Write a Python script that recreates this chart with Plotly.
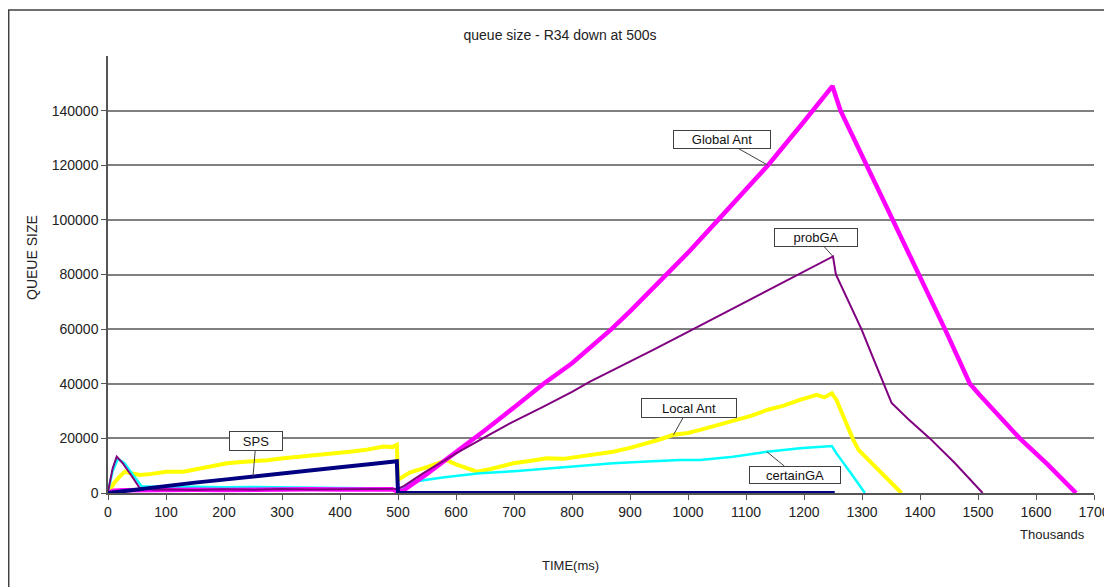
import plotly.graph_objects as go

# ---------------- data (x in thousands of ms, queue size) ----------------
ga_x = [0, 10, 30, 60, 100, 150, 200, 250, 300, 350, 400, 450, 490, 500, 510, 550, 584, 600, 650, 700,
        751, 800, 868, 900, 964, 1000, 1052, 1100, 1138, 1200, 1249, 1263, 1308, 1355, 1400, 1443,
        1486, 1503, 1572, 1620, 1669]
ga_y = [0, 800, 1000, 1100, 1000, 1200, 1100, 1300, 1200, 1400, 1300, 1500, 1400, 500, 1000, 7000, 12300,
        15000, 23000, 31300, 40000, 47500, 60000, 66500, 80000, 88000, 100000, 111000, 120000, 136000,
        149000, 140000, 120000, 100000, 80000, 60000, 40000, 35900, 20000, 10500, 0]

pg_x = [0, 8, 15, 25, 40, 55, 80, 100, 150, 200, 250, 300, 350, 400, 450, 500, 510, 543, 584, 600, 650,
        693, 750, 800, 831, 900, 940, 1000, 1050, 1100, 1150, 1200, 1250, 1255, 1270, 1285, 1299, 1320,
        1337, 1351, 1380, 1417, 1460, 1508]
pg_y = [500, 9000, 13300, 11000, 6500, 1700, 1200, 1300, 1100, 1400, 1200, 1500, 1300, 1400, 1300, 1600,
        2500, 7200, 12400, 14500, 20500, 25500, 31500, 37000, 40800, 48000, 52400, 59000, 64500, 70000,
        75500, 81000, 86600, 80000, 73000, 66000, 60000, 49000, 40000, 33000, 27000, 20000, 11000, 0]

la_x = [0, 10, 20, 29, 40, 55, 75, 101, 130, 159, 187, 205, 225, 245, 275, 302, 330, 360, 390, 417, 445,
        475, 490, 498, 500, 520, 550, 584, 600, 620, 636, 660, 699, 730, 756, 785, 814, 840, 871, 900,
        929, 950, 975, 1000, 1021, 1050, 1078, 1110, 1136, 1165, 1193, 1222, 1235, 1248, 1256, 1270,
        1285, 1294, 1330, 1368]
la_y = [0, 3500, 6000, 7800, 7200, 6600, 7000, 7800, 7800, 9000, 10500, 10900, 11300, 11500, 12000, 12700,
        13200, 13900, 14300, 15100, 15800, 17000, 16800, 17600, 4800, 7500, 9500, 12000, 10500, 8800,
        7800, 8800, 10900, 11800, 12700, 12500, 13300, 14200, 15100, 16500, 18200, 19500, 21300, 22000,
        23100, 24800, 26700, 28300, 30400, 32000, 34100, 35900, 35000, 36500, 34100, 27000, 19400, 15800,
        8000, 0]

cg_x = [0, 8, 17, 28, 42, 58, 80, 100, 150, 200, 250, 300, 350, 400, 450, 490, 500, 526, 580, 641, 700,
        756, 810, 871, 930, 986, 1021, 1078, 1136, 1193, 1248, 1256, 1280, 1305]
cg_y = [500, 8000, 12500, 11000, 7000, 2500, 2300, 2200, 2300, 2100, 2200, 2000, 1900, 1800, 1700, 1600,
        500, 4100, 5800, 7200, 8000, 9000, 10000, 10900, 11500, 12100, 12100, 13300, 15100, 16400, 17200,
        14500, 7500, 0]

sps_x = [0, 20, 55, 100, 150, 200, 250, 300, 350, 400, 450, 498, 500, 1253]
sps_y = [0, 500, 1700, 2700, 3800, 4900, 6100, 7200, 8300, 9400, 10500, 11600, 0, 0]

x_ticks = list(range(0, 1701, 100))
y_ticks = list(range(0, 140001, 20000))

# ---------------- figure ----------------
fig = go.Figure()
fig.add_trace(go.Scatter(x=la_x, y=la_y, mode="lines", name="Local Ant",
                         line=dict(color="#FFFF00", width=4)))
fig.add_trace(go.Scatter(x=cg_x, y=cg_y, mode="lines", name="certainGA",
                         line=dict(color="#00FFFF", width=2.5)))
fig.add_trace(go.Scatter(x=ga_x, y=ga_y, mode="lines", name="Global Ant",
                         line=dict(color="#FF00FF", width=4.5)))
fig.add_trace(go.Scatter(x=pg_x, y=pg_y, mode="lines", name="probGA",
                         line=dict(color="#800080", width=2)))
fig.add_trace(go.Scatter(x=sps_x, y=sps_y, mode="lines", name="SPS",
                         line=dict(color="#000080", width=4)))

FONT = "Liberation Sans, Arial, sans-serif"


def callout(text, x, y, ax, ay, w, h):
    return dict(x=x, y=y, xref="x", yref="y", text=text, showarrow=True,
                arrowhead=0, arrowwidth=1, arrowcolor="#404040",
                ax=ax, ay=ay, axref="pixel", ayref="pixel",
                bgcolor="white", bordercolor="#404040", borderwidth=1, borderpad=1,
                width=w, height=h, font=dict(family=FONT, size=13, color="#111"))


def label(text, x, y, size, angle=0):
    return dict(text=text, x=x, y=y, xref="paper", yref="paper", showarrow=False,
                textangle=angle, xanchor="center", yanchor="middle",
                font=dict(family=FONT, size=size, color="#222"))


ann = [
    callout("Global Ant", ga_x[28], ga_y[28], -46, -26, 94, 15),
    callout("probGA", pg_x[32], pg_y[32], -17, -19, 80, 15),
    callout("Local Ant", la_x[42], la_y[42], 15, -27, 92, 16),
    callout("certainGA", cg_x[28], cg_y[28], 28, 23, 88, 14),
    callout("SPS", sps_x[6], sps_y[6], 3, -35, 50, 16),
    label("Thousands", 0.958, -0.096, 13),
    label("TIME(ms)", 0.4686, -0.167, 13),
    label("QUEUE SIZE", -0.0771, 0.540, 14, -90),
]

# the page body adds an 8px offset, so the figure is sized to fit the window from (8, 8)
fig.update_layout(
    width=1104, height=579,
    margin=dict(l=100, r=18, t=48, b=94, autoexpand=False),
    paper_bgcolor="white", plot_bgcolor="white",
    showlegend=False,
    font=dict(family=FONT, size=14, color="#222"),
    title=dict(text="queue size - R34 down at 500s", x=0.5, xanchor="center",
               y=1 - 27 / 579, yanchor="middle", font=dict(family=FONT, size=14, color="#222")),
    annotations=ann,
    shapes=[dict(type="rect", xref="paper", yref="paper",
                 x0=-0.1007, x1=1.03, y0=-0.25, y1=1.105,
                 line=dict(color="#404040", width=1.5), fillcolor="rgba(0,0,0,0)", layer="below")],
)

fig.update_xaxes(range=[0, 1700], tickvals=x_ticks, ticktext=[str(v) for v in x_ticks],
                 showgrid=False, zeroline=False, showline=True, linecolor="#555", linewidth=1.5,
                 ticks="outside", ticklen=5, tickcolor="#555", automargin=False,
                 tickfont=dict(family=FONT, size=14, color="#222"))
fig.update_yaxes(range=[0, 160000], tickvals=y_ticks, ticktext=[str(v) for v in y_ticks],
                 showgrid=True, gridcolor="#808080", gridwidth=1.5, zeroline=False,
                 showline=True, linecolor="#555", linewidth=1.5,
                 ticks="outside", ticklen=5, tickcolor="#555", automargin=False,
                 tickfont=dict(family=FONT, size=14, color="#222"))

fig.write_html("out.html")
